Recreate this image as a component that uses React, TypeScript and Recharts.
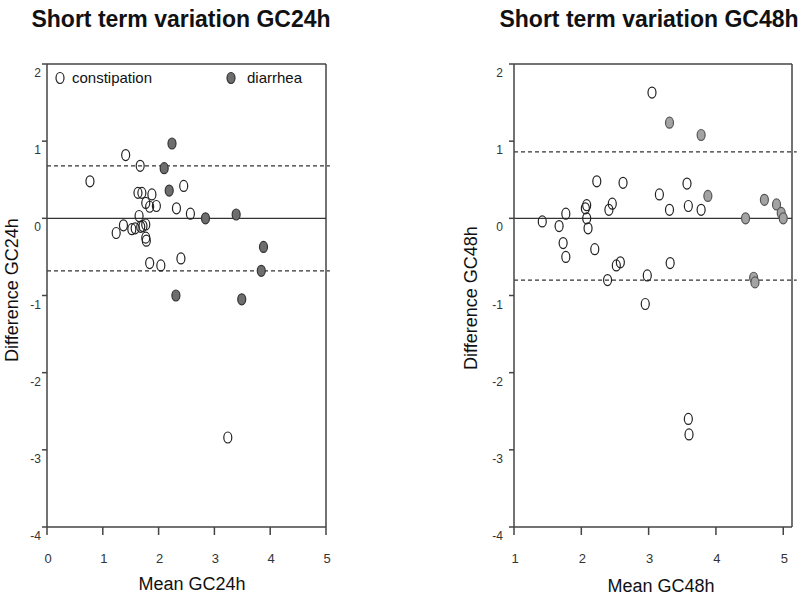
import React from 'react';
import {
  ScatterChart, Scatter, XAxis, YAxis, ReferenceLine,
} from 'recharts';

// GC24h: mean vs difference
const gc24Constipation = [
  { mean: 0.77, diff: 0.48 }, { mean: 1.41, diff: 0.82 }, { mean: 1.67, diff: 0.68 },
  { mean: 2.45, diff: 0.42 }, { mean: 1.63, diff: 0.33 }, { mean: 1.70, diff: 0.33 },
  { mean: 1.88, diff: 0.31 }, { mean: 1.77, diff: 0.20 }, { mean: 1.96, diff: 0.16 },
  { mean: 1.84, diff: 0.15 }, { mean: 2.32, diff: 0.13 }, { mean: 2.57, diff: 0.06 },
  { mean: 1.65, diff: 0.03 }, { mean: 1.37, diff: -0.09 }, { mean: 1.24, diff: -0.19 },
  { mean: 1.52, diff: -0.14 }, { mean: 1.58, diff: -0.13 }, { mean: 1.68, diff: -0.11 },
  { mean: 1.72, diff: -0.10 }, { mean: 1.77, diff: -0.08 }, { mean: 1.77, diff: -0.25 },
  { mean: 1.78, diff: -0.29 }, { mean: 1.84, diff: -0.58 }, { mean: 2.04, diff: -0.61 },
  { mean: 2.40, diff: -0.52 }, { mean: 3.24, diff: -2.84 },
];
const gc24Diarrhea = [
  { mean: 2.24, diff: 0.97 }, { mean: 2.10, diff: 0.65 }, { mean: 2.19, diff: 0.36 },
  { mean: 2.84, diff: 0.0 }, { mean: 3.39, diff: 0.05 }, { mean: 3.88, diff: -0.37 },
  { mean: 3.84, diff: -0.68 }, { mean: 2.31, diff: -1.0 }, { mean: 3.49, diff: -1.05 },
];
const gc24Limits = [0.68, -0.68];

// GC48h
const gc48Constipation = [
  { mean: 3.05, diff: 1.63 }, { mean: 2.23, diff: 0.48 }, { mean: 2.62, diff: 0.46 },
  { mean: 3.57, diff: 0.45 }, { mean: 3.16, diff: 0.31 }, { mean: 2.46, diff: 0.19 },
  { mean: 2.41, diff: 0.11 }, { mean: 2.08, diff: 0.17 }, { mean: 2.06, diff: 0.13 },
  { mean: 1.77, diff: 0.06 }, { mean: 2.08, diff: 0.0 }, { mean: 2.10, diff: -0.13 },
  { mean: 1.42, diff: -0.04 }, { mean: 1.67, diff: -0.10 }, { mean: 3.31, diff: 0.11 },
  { mean: 3.59, diff: 0.16 }, { mean: 3.78, diff: 0.11 }, { mean: 1.73, diff: -0.32 },
  { mean: 1.77, diff: -0.50 }, { mean: 2.20, diff: -0.40 }, { mean: 2.58, diff: -0.57 },
  { mean: 2.52, diff: -0.61 }, { mean: 2.39, diff: -0.80 }, { mean: 2.98, diff: -0.74 },
  { mean: 3.32, diff: -0.58 }, { mean: 2.95, diff: -1.11 }, { mean: 3.59, diff: -2.60 },
  { mean: 3.60, diff: -2.80 },
];
const gc48Diarrhea = [
  { mean: 3.31, diff: 1.24 }, { mean: 3.78, diff: 1.08 }, { mean: 3.88, diff: 0.29 },
  { mean: 4.44, diff: 0.0 }, { mean: 4.72, diff: 0.24 }, { mean: 4.90, diff: 0.18 },
  { mean: 4.97, diff: 0.07 }, { mean: 5.0, diff: 0.0 }, { mean: 4.56, diff: -0.77 },
  { mean: 4.58, diff: -0.83 },
];
const gc48Limits = [0.86, -0.80];

const yTicks = [-4, -3, -2, -1, 0, 1, 2];
const gc24XTicks = [0, 1, 2, 3, 4, 5];
const gc48XTicks = [1, 2, 3, 4, 5];

const FONT = "Arial, 'Liberation Sans', sans-serif";
const AXIS = '#444';

const openDot = (p: any) => (
  <ellipse cx={p.cx} cy={p.cy} rx={4} ry={5.5} fill="none" stroke="#222" strokeWidth={1.2} />
);
const filledDot = (fill: string, stroke: string) => (p: any) => (
  <ellipse cx={p.cx} cy={p.cy} rx={4} ry={5.5} fill={fill} stroke={stroke} strokeWidth={1.2} />
);

const YTick = (dx: number) => (p: any) => (
  <text x={p.x + dx} y={p.y + 13} textAnchor="end" fontSize={12} fill="#333" fontFamily={FONT}>
    {p.payload.value}
  </text>
);
const XTick = (p: any) => (
  <text x={p.x + 1} y={p.y + 26} textAnchor="middle" fontSize={13} fill="#333" fontFamily={FONT}>
    {p.payload.value}
  </text>
);

const Panel = ({ constipation, diarrhea, limits, xDomain, xTicks, fill, stroke, margin, tickDx }: any) => (
  <ScatterChart width={400} height={601} margin={margin}>
    <XAxis
      type="number" dataKey="mean" domain={xDomain} ticks={xTicks} allowDataOverflow
      axisLine={{ stroke: AXIS, strokeWidth: 1.5 }} tickLine={{ stroke: AXIS, strokeWidth: 1.5 }}
      tickSize={8} height={40} tick={XTick}
    />
    <YAxis
      type="number" dataKey="diff" domain={[-4, 2]} ticks={yTicks} allowDataOverflow
      axisLine={{ stroke: AXIS, strokeWidth: 1.5 }} tickLine={{ stroke: AXIS, strokeWidth: 1.5 }}
      tickSize={5} width={40} tick={YTick(tickDx)}
    />
    <ReferenceLine y={2} stroke={AXIS} strokeWidth={1.5} />
    <ReferenceLine x={xDomain[1]} stroke={AXIS} strokeWidth={1.5} />
    <ReferenceLine y={0} stroke="#333" strokeWidth={1.3} />
    {limits.map((v: number) => (
      <ReferenceLine
        key={v}
        segment={[{ x: xDomain[0], y: v }, { x: xDomain[1] + 0.07, y: v }]}
        ifOverflow="visible" stroke="#333" strokeDasharray="4 3" strokeWidth={1.2}
      />
    ))}
    <Scatter name="constipation" data={constipation} shape={openDot} isAnimationActive={false} />
    <Scatter name="diarrhea" data={diarrhea} shape={filledDot(fill, stroke)} isAnimationActive={false} />
  </ScatterChart>
);

const textStyle: React.CSSProperties = {
  position: 'absolute', fontFamily: FONT, color: '#111', whiteSpace: 'nowrap',
};

export default function App() {
  return (
    <div style={{ position: 'fixed', left: 0, top: 0, width: 800, height: 601, background: '#fff', overflow: 'hidden' }}>
      <div style={{ position: 'absolute', left: 0, top: 0 }}>
        <Panel
          constipation={gc24Constipation} diarrhea={gc24Diarrhea} limits={gc24Limits}
          xDomain={[0, 5]} xTicks={gc24XTicks} fill="#6e6e6e" stroke="#333"
          margin={{ top: 64, right: 74, bottom: 34, left: 7 }} tickDx={1}
        />
      </div>
      <div style={{ position: 'absolute', left: 400, top: 0 }}>
        <Panel
          constipation={gc48Constipation} diarrhea={gc48Diarrhea} limits={gc48Limits}
          xDomain={[1, 5.13]} xTicks={gc48XTicks} fill="#a3a3a3" stroke="#555"
          margin={{ top: 64, right: 8, bottom: 34, left: 74 }} tickDx={-4}
        />
      </div>

      {/* titles */}
      <div style={{ ...textStyle, left: 181, top: 6, transform: 'translateX(-50%)', fontSize: 23, fontWeight: 'bold' }}>
        Short term variation GC24h
      </div>
      <div style={{ ...textStyle, left: 649, top: 6, transform: 'translateX(-50%)', fontSize: 23, fontWeight: 'bold' }}>
        Short term variation GC48h
      </div>

      {/* axis titles */}
      <div style={{ ...textStyle, left: 192, top: 574, transform: 'translateX(-50%)', fontSize: 18 }}>Mean GC24h</div>
      <div style={{ ...textStyle, left: 661, top: 576, transform: 'translateX(-50%)', fontSize: 18 }}>Mean GC48h</div>
      <div style={{ ...textStyle, left: 12, top: 290, transform: 'translate(-50%, -50%) rotate(-90deg)', fontSize: 18 }}>
        Difference GC24h
      </div>
      <div style={{ ...textStyle, left: 471, top: 298, transform: 'translate(-50%, -50%) rotate(-90deg)', fontSize: 18 }}>
        Difference GC48h
      </div>

      {/* legend */}
      <div style={{ ...textStyle, left: 55, top: 69, fontSize: 15, display: 'flex', alignItems: 'center' }}>
        <svg width={12} height={14}><ellipse cx={5} cy={7} rx={4} ry={5.5} fill="none" stroke="#222" strokeWidth={1.2} /></svg>
        <span style={{ marginLeft: 5 }}>constipation</span>
      </div>
      <div style={{ ...textStyle, left: 226, top: 69, fontSize: 15, display: 'flex', alignItems: 'center' }}>
        <svg width={12} height={14}><ellipse cx={5} cy={7} rx={4} ry={5.5} fill="#6e6e6e" stroke="#333" strokeWidth={1.2} /></svg>
        <span style={{ marginLeft: 9 }}>diarrhea</span>
      </div>
    </div>
  );
}
